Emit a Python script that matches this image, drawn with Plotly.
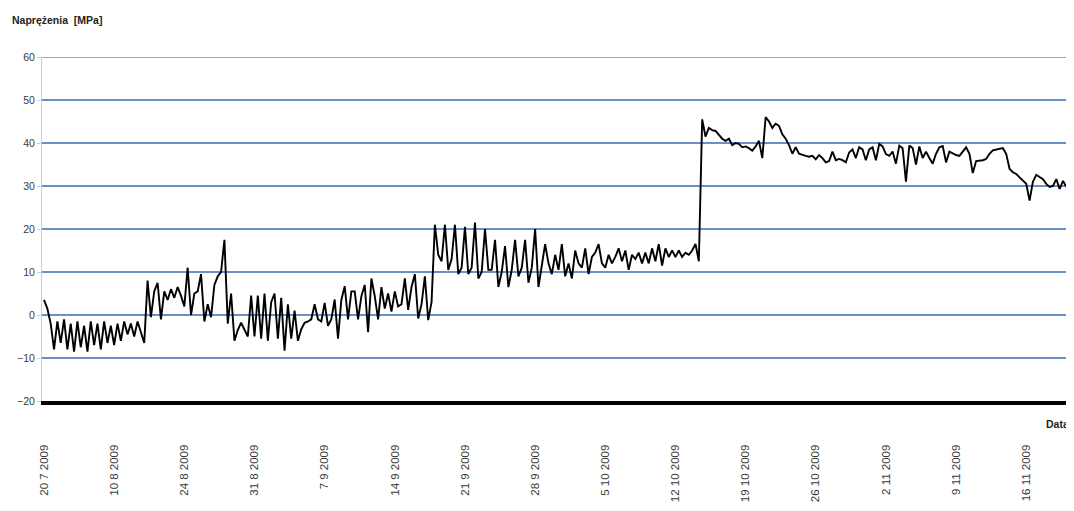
import plotly.graph_objects as go

# etykiety osi X (jedna co 21 pomiarów)
daty = ["20 7 2009", "10 8 2009", "24 8 2009", "31 8 2009", "7 9 2009",
        "14 9 2009", "21 9 2009", "28 9 2009", "5 10 2009", "12 10 2009",
        "19 10 2009", "26 10 2009", "2 11 2009", "9 11 2009", "16 11 2009"]

# naprężenia [MPa] - kolejne pomiary, podzielone na odcinki między etykietami
odc_01 = [3.5, 1.5, -2.0, -8.0, -1.5, -6.5, -1.0, -8.0, -2.0, -8.5, -1.5,
          -7.5, -2.5, -8.5, -1.5, -7.0, -2.0, -8.0, -1.5, -6.5, -2.5]
odc_02 = [-7.0, -2.0, -6.0, -1.5, -4.5, -2.0, -5.0, -1.5, -4.0, -6.5, 8.0,
          -0.5, 5.5, 7.5, -1.0, 5.5, 3.5, 6.0, 4.0, 6.5, 4.5]
odc_03 = [2.0, 11.0, 0.0, 5.0, 5.5, 9.5, -1.5, 2.5, -0.5, 7.0, 9.0,
          10.0, 17.5, -2.0, 5.0, -6.0, -3.5, -1.8, -3.5, -5.0, 4.5]
odc_04 = [-5.0, 4.5, -5.5, 5.0, -6.0, 3.0, 5.0, -5.5, 4.0, -8.3, 2.5,
          -5.5, 1.0, -6.0, -3.3, -1.8, -1.5, -1.0, 2.5, -1.0, -1.5]
odc_05 = [2.8, -2.5, -1.0, 3.6, -5.5, 3.5, 6.7, -1.0, 5.5, 5.5, -1.0,
          4.4, 7.0, -4.0, 8.5, 4.4, -1.0, 6.5, 1.5, 5.0, 0.8]
odc_06 = [5.5, 2.0, 2.5, 8.5, 1.2, 6.5, 9.5, -0.8, 2.5, 9.0, -1.2,
          3.0, 21.0, 14.0, 12.5, 21.0, 10.5, 13.0, 21.0, 9.5, 11.0]
odc_07 = [20.5, 9.5, 11.0, 21.5, 8.5, 10.0, 20.0, 10.5, 10.5, 17.5, 6.5,
          10.0, 16.0, 6.5, 10.5, 17.5, 9.0, 11.0, 17.5, 7.5, 11.0]
odc_08 = [20.0, 6.5, 11.0, 16.5, 12.0, 9.5, 14.0, 10.5, 16.5, 9.0, 12.0,
          8.5, 15.0, 12.0, 11.0, 15.5, 9.5, 13.5, 14.5, 16.5, 12.0]
odc_09 = [11.0, 14.0, 12.0, 13.5, 15.5, 12.5, 15.0, 10.5, 14.0, 13.0, 14.5,
          12.0, 14.5, 12.0, 15.5, 12.5, 16.5, 11.5, 15.5, 13.5, 15.0]
odc_10 = [13.5, 15.0, 13.5, 14.5, 14.0, 15.0, 16.5, 12.5, 45.5, 41.5, 43.5,
          43.0, 42.8, 42.0, 41.0, 40.5, 41.0, 39.5, 40.0, 39.8, 39.0]
odc_11 = [39.2, 38.8, 38.2, 39.2, 40.5, 36.5, 46.0, 45.0, 43.5, 44.5, 44.0,
          42.0, 41.0, 39.5, 37.5, 39.0, 37.5, 37.2, 37.0, 36.8, 37.0]
odc_12 = [36.2, 37.2, 36.5, 35.5, 35.8, 38.0, 36.0, 36.3, 36.0, 35.5, 37.8,
          38.5, 36.5, 39.0, 38.5, 36.0, 38.5, 39.0, 36.0, 39.8, 39.2]
odc_13 = [37.4, 37.0, 38.0, 35.2, 39.4, 38.8, 31.0, 39.4, 38.8, 35.0, 39.2,
          36.5, 38.0, 36.5, 35.2, 37.5, 39.0, 39.3, 35.5, 38.0, 37.6]
odc_14 = [37.2, 37.0, 38.0, 39.0, 37.5, 33.0, 35.8, 35.9, 36.0, 36.3, 37.5,
          38.3, 38.5, 38.6, 38.8, 37.5, 34.0, 33.2, 32.8, 32.0, 31.3]
odc_15 = [30.5, 26.6, 31.0, 32.6, 32.0, 31.6, 30.5, 29.8, 30.0, 31.6, 29.3,
          31.2, 29.8]

POMIARY_NA_ETYKIETE = 21
Y_MIN, Y_MAX = -20, 60
KOLOR_SIATKI = "#6a90c6"

naprezenia = (odc_01 + odc_02 + odc_03 + odc_04 + odc_05 + odc_06 + odc_07
              + odc_08 + odc_09 + odc_10 + odc_11 + odc_12 + odc_13 + odc_14
              + odc_15)
nr_pomiaru = list(range(len(naprezenia)))

fig = go.Figure()
fig.add_trace(go.Scatter(
    x=nr_pomiaru,
    y=naprezenia,
    mode="lines",
    line=dict(color="black", width=1.9),
    hoverinfo="y",
))

# strona ma 8 px marginesu, więc wykres jest o tyle mniejszy
fig.update_layout(
    width=1066,
    height=503,
    margin=dict(l=34, r=6, t=49, b=110),
    paper_bgcolor="white",
    plot_bgcolor="white",
    showlegend=False,
    font=dict(family="Liberation Sans, Arial, sans-serif", size=11, color="#3a3a3a"),
)

fig.update_xaxes(
    range=[-0.6, len(naprezenia) - 0.5],
    tickvals=[k * POMIARY_NA_ETYKIETE for k in range(len(daty))],
    ticktext=daty,
    tickangle=-90,
    tickfont=dict(size=11.5),
    ticks="",
    ticklabelstandoff=35,
    showgrid=False,
    zeroline=False,
    showline=True,
    linecolor="black",
    linewidth=4,
    automargin=False,
)

fig.update_yaxes(
    range=[Y_MIN, Y_MAX],
    dtick=10,
    showgrid=True,
    gridcolor=KOLOR_SIATKI,
    gridwidth=1.5,
    zeroline=False,
    showline=True,
    linecolor="#bcd0ea",
    linewidth=1,
    ticks="outside",
    ticklen=4,
    tickcolor="#bcd0ea",
    tickfont=dict(size=10.5),
    automargin=False,
)

# górna linia siatki (plotly pomija ją na krawędzi)
fig.add_shape(
    type="line", xref="paper", yref="y",
    x0=0, x1=1, y0=Y_MAX, y1=Y_MAX,
    line=dict(color=KOLOR_SIATKI, width=1.5),
    layer="below",
)

# tytuły osi jako napisy
fig.add_annotation(
    text="<b>Naprężenia  [MPa]</b>",
    xref="paper", yref="paper",
    x=-0.031, y=1.108,
    xanchor="left", yanchor="middle",
    showarrow=False,
    font=dict(size=10.5, color="#222"),
)
fig.add_annotation(
    text="<b>Data</b>",
    xref="paper", yref="paper",
    x=1.003, y=-0.067,
    xanchor="right", yanchor="middle",
    showarrow=False,
    font=dict(size=10.5, color="#222"),
)

fig.write_html("out.html")
